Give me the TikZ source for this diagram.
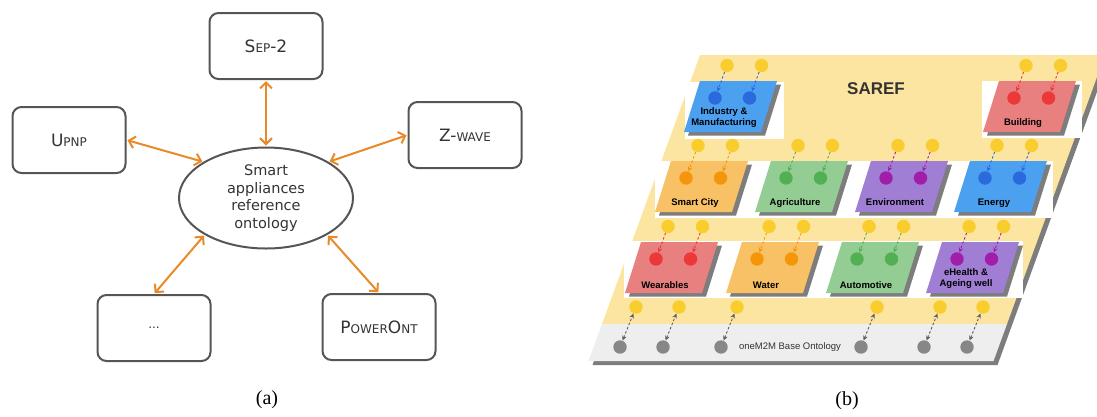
\documentclass[tikz,border=0pt]{standalone}
\usepackage{fontspec}
\setmainfont{Liberation Serif}
\newfontfamily\verdanaish{DejaVu Sans}
\newfontfamily\arialish{Liberation Sans}
\usetikzlibrary{arrows.meta,positioning,shapes.geometric}

\definecolor{framegray}{RGB}{85,85,85}
\definecolor{inkgray}{RGB}{51,51,51}
\definecolor{linkorange}{RGB}{233,137,40}
\definecolor{sarefyellow}{RGB}{252,229,160}
\definecolor{sunflower}{RGB}{249,205,46}
\definecolor{basegray}{RGB}{238,238,238}
\definecolor{coregray}{RGB}{135,135,135}
\definecolor{dropgray}{RGB}{125,125,125}
\definecolor{blueface}{RGB}{76,160,240}
\definecolor{bluedot}{RGB}{42,106,220}
\definecolor{redface}{RGB}{232,128,128}
\definecolor{reddot}{RGB}{236,56,56}
\definecolor{orangeface}{RGB}{248,193,102}
\definecolor{orangedot}{RGB}{245,150,10}
\definecolor{greenface}{RGB}{148,205,148}
\definecolor{greendot}{RGB}{82,176,82}
\definecolor{purpleface}{RGB}{160,126,212}
\definecolor{purpledot}{RGB}{160,30,170}

\newcommand{\lowcaps}[1]{{\fontsize{12}{12}\selectfont #1}}

\begin{document}
\begin{tikzpicture}[x=1pt, y=-1pt,
  protocol/.style={draw=framegray, line width=2pt, rounded corners=9pt, minimum width=113pt, minimum height=66pt, inner sep=0pt, text=inkgray, font=\verdanaish\fontsize{17}{17}\selectfont},
  core/.style={ellipse, draw=framegray, line width=2pt, minimum width=174pt, minimum height=101pt, inner sep=0pt, align=center, text=inkgray, font=\verdanaish\fontsize{14.5}{17.7}\selectfont},
  link/.style={{Straight Barb[length=6pt,width=12pt]}-{Straight Barb[length=6pt,width=12pt]}, draw=linkorange, line width=2pt, shorten <=1pt, shorten >=1pt},
  dot/.style={circle, inner sep=0pt, minimum size=13.4pt},
  feed/.style={-{Stealth[length=5pt,width=4.5pt]}, dash pattern=on 2.5pt off 2pt, line width=0.9pt},
  relay/.style={{Stealth[length=5pt,width=4.5pt]}-{Stealth[length=5pt,width=4.5pt]}, dash pattern=on 2.5pt off 2pt, line width=0.9pt, draw=coregray!70!black},
  tag/.style={align=center, inner sep=0pt, font=\arialish\bfseries\fontsize{9.5}{11}\selectfont},
  caption/.style={font=\fontsize{20}{20}\selectfont}
]
\useasboundingbox (0,0) rectangle (1097,416);

% (a) ontology and its neighbours
\node[core] (sao) at (266,198) {Smart\\appliances\\reference\\ontology};
\node[protocol] (sep) at (266,46) {S\lowcaps{EP}-2};
\node[protocol] (upnp) at (69,140) {U\lowcaps{PNP}};
\node[protocol] (zwave) at (465,135) {Z-\lowcaps{WAVE}};
\node[protocol] (more) at (154,328) {\lowcaps{...}};
\node[protocol] (pont) at (379,327) {P\lowcaps{OWER}O\lowcaps{NT}};
\draw[link] (sep) -- (sao);
\draw[link] (upnp.east) -- (sao.150);
\draw[link] (zwave.west) -- (sao.30);
\draw[link] (more.north) -- (sao.211);
\draw[link] (pont.north) -- (sao.329);
\node[caption] (capa) at (267,400) {(a)};

% (b) layers
\fill[dropgray, shift={(4,4)}] (700,55) -- (1105,55) -- (993.5,361) -- (588.5,361) -- cycle;
\fill[sarefyellow] (700,55) -- (1105,55) -- (1007,324) -- (602,324) -- cycle;
\fill[basegray] (602,324) -- (1007,324) -- (993.5,361) -- (588.5,361) -- cycle;
\fill[white] (685,82) rectangle (784,139);
\fill[white] (982,81) rectangle (1082,138);
\fill[white] (655,161) rectangle (1053,218);
\fill[white] (624,241) rectangle (1023,298);
\node[font=\arialish\bfseries\fontsize{17}{17}\selectfont, text=inkgray] (saref) at (876,89) {SAREF};

% domain extensions
\foreach \nm/\bx/\by/\fc/\dc/\lbl/\ly in {
  ind/700/81/blueface/bluedot/{Industry \&\\Manufacturing}/37,
  bld/999/81/redface/reddot/{Building}/42,
  city/671/161/orangeface/orangedot/{Smart City}/42,
  agri/771/161/greenface/greendot/{Agriculture}/42,
  env/871/161/purpleface/purpledot/{Environment}/41,
  nrg/970/161/blueface/bluedot/{Energy}/42,
  wear/641/242/redface/reddot/{Wearables}/43,
  wat/742/242/orangeface/orangedot/{Water}/43,
  auto/842/242/greenface/greendot/{Automotive}/43,
  ehl/942/242/purpleface/purpledot/{eHealth \&\\Ageing well}/36.5}{
  \begin{scope}[shift={(\bx,\by)}]
    \fill[dropgray] (4,3.5) -- (81,3.5) -- (65,54.5) -- (-12,54.5) -- cycle;
    \fill[\fc] (0,0) -- (77,0) -- (61,51) -- (-16,51) -- cycle;
    \node[dot, fill=\dc] (\nm-a) at (15,17) {};
    \node[dot, fill=\dc] (\nm-b) at (49.5,17) {};
    \node[dot, fill=sunflower] (\nm-ya) at (27,-15.5) {};
    \node[dot, fill=sunflower] (\nm-yb) at (61.5,-15.5) {};
    \draw[feed, \dc] (\nm-ya) -- (\nm-a);
    \draw[feed, \dc] (\nm-yb) -- (\nm-b);
    \node[tag] (\nm-lbl) at (24,\ly) {\lbl};
  \end{scope}
}

% oneM2M base links
\foreach \i/\gx in {1/620, 2/663, 3/721, 4/861, 5/924, 6/967} {
  \node[dot, fill=coregray] (g\i) at (\gx,347) {};
  \node[dot, fill=sunflower] (u\i) at (\gx+16,307) {};
  \draw[relay] (g\i) -- (u\i);
}
\node[font=\arialish\fontsize{9.5}{10}\selectfont, text=inkgray] (base) at (790,347) {oneM2M Base Ontology};
\node[caption] (capb) at (847,401) {(b)};
\end{tikzpicture}
\end{document}
